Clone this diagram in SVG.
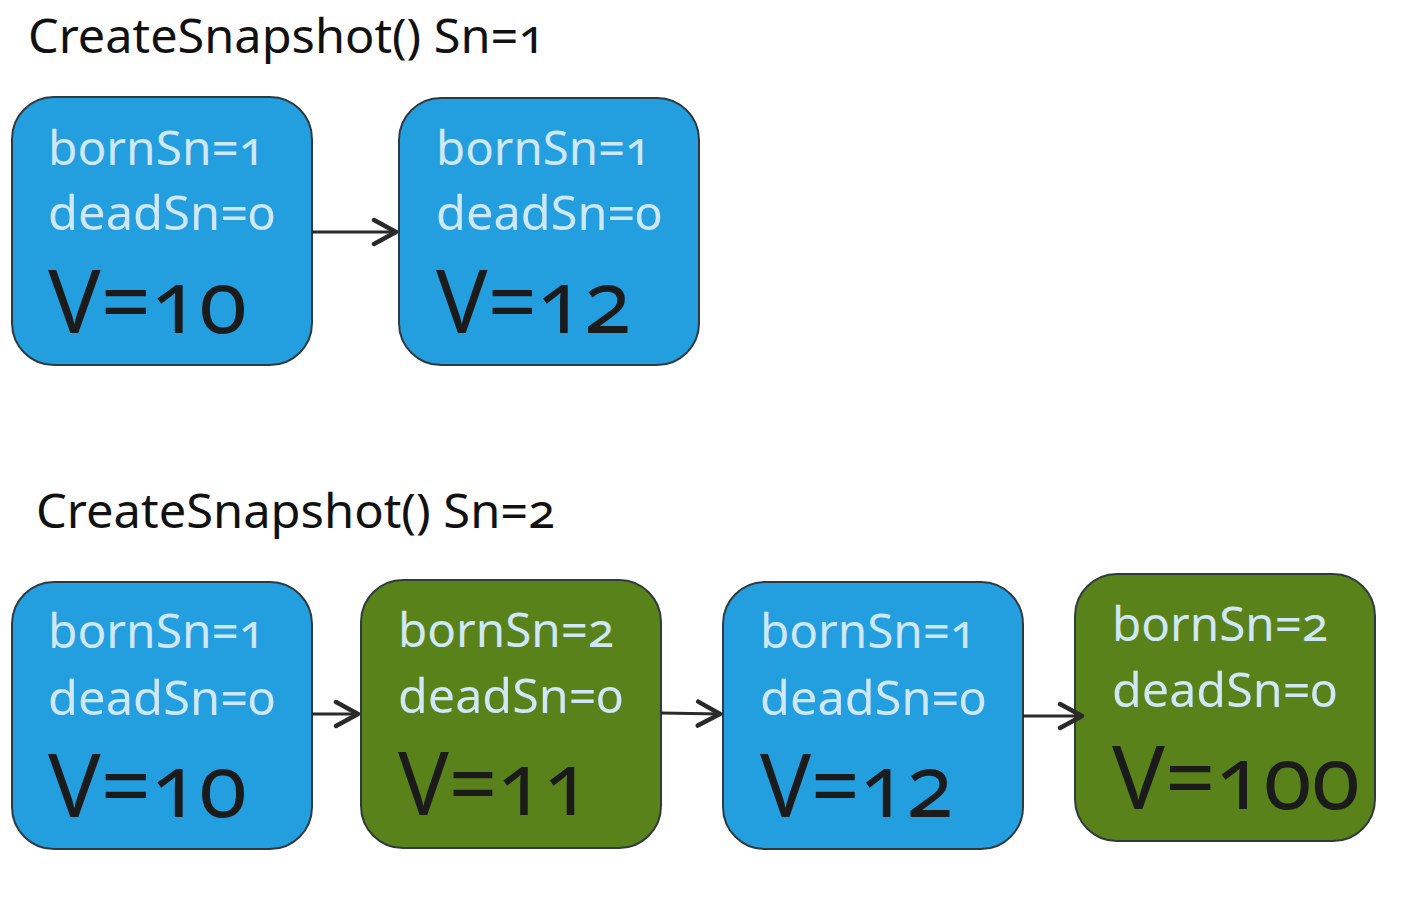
<svg xmlns="http://www.w3.org/2000/svg" width="1428" height="905" viewBox="0 0 1428 905">
<defs>
<style>
.box{stroke:#2f3a3f;stroke-width:2}
.blue{fill:#239fdf}
.green{fill:#5a821a}
.t{font-family:"Noto Sans","Open Sans","Liberation Sans",sans-serif;font-variant-numeric:oldstyle-nums;font-feature-settings:"onum" 1}
.sm{font-size:48px;fill:#cfe7f6}
.big{font-size:88px;fill:#1b1b1b}
.title{font-size:47px;fill:#111}
.conn{stroke:#2a2a2a;stroke-width:3;fill:none}
</style>
<marker id="arr" viewBox="0 0 30 30" refX="27" refY="15" markerWidth="30" markerHeight="30" markerUnits="userSpaceOnUse" orient="auto">
<path d="M4,3 L26,15 L4,27" fill="none" stroke="#2a2a2a" stroke-width="4.5" stroke-linecap="round" stroke-linejoin="round"/>
</marker>
</defs>
<rect width="1428" height="905" fill="#ffffff"/>
<text class="t title" x="28" y="53" textLength="517" lengthAdjust="spacingAndGlyphs">CreateSnapshot() Sn=1</text>
<text class="t title" x="36" y="528" textLength="519" lengthAdjust="spacingAndGlyphs">CreateSnapshot() Sn=2</text>
<g id="n1">
<rect class="box blue" x="12" y="97" width="300" height="268" rx="42"/>
<text class="t sm" x="48" y="165" textLength="217" lengthAdjust="spacingAndGlyphs">bornSn=1</text>
<text class="t sm" x="48" y="230" textLength="227" lengthAdjust="spacingAndGlyphs">deadSn=0</text>
<text class="t big" x="48" y="333" textLength="199" lengthAdjust="spacingAndGlyphs">V=10</text>
</g>
<g id="n2">
<rect class="box blue" x="399" y="98" width="300" height="267" rx="42"/>
<text class="t sm" x="436" y="165" textLength="215" lengthAdjust="spacingAndGlyphs">bornSn=1</text>
<text class="t sm" x="436" y="230" textLength="226" lengthAdjust="spacingAndGlyphs">deadSn=0</text>
<text class="t big" x="436" y="333" textLength="195" lengthAdjust="spacingAndGlyphs">V=12</text>
</g>
<g id="n3">
<rect class="box blue" x="12" y="582" width="300" height="267" rx="42"/>
<text class="t sm" x="48" y="648" textLength="217" lengthAdjust="spacingAndGlyphs">bornSn=1</text>
<text class="t sm" x="48" y="715" textLength="227" lengthAdjust="spacingAndGlyphs">deadSn=0</text>
<text class="t big" x="48" y="817" textLength="199" lengthAdjust="spacingAndGlyphs">V=10</text>
</g>
<g id="n4">
<rect class="box green" x="361" y="580" width="300" height="268" rx="42"/>
<text class="t sm" x="398" y="647" textLength="216" lengthAdjust="spacingAndGlyphs">bornSn=2</text>
<text class="t sm" x="398" y="713" textLength="225" lengthAdjust="spacingAndGlyphs">deadSn=0</text>
<text class="t big" x="398" y="815" textLength="192" lengthAdjust="spacingAndGlyphs">V=11</text>
</g>
<g id="n5">
<rect class="box blue" x="723" y="582" width="300" height="267" rx="42"/>
<text class="t sm" x="760" y="648" textLength="216" lengthAdjust="spacingAndGlyphs">bornSn=1</text>
<text class="t sm" x="760" y="715" textLength="226" lengthAdjust="spacingAndGlyphs">deadSn=0</text>
<text class="t big" x="760" y="817" textLength="193" lengthAdjust="spacingAndGlyphs">V=12</text>
</g>
<g id="n6">
<rect class="box green" x="1075" y="574" width="300" height="267" rx="42"/>
<text class="t sm" x="1112" y="641" textLength="216" lengthAdjust="spacingAndGlyphs">bornSn=2</text>
<text class="t sm" x="1112" y="707" textLength="225" lengthAdjust="spacingAndGlyphs">deadSn=0</text>
<text class="t big" x="1112" y="809" textLength="248" lengthAdjust="spacingAndGlyphs">V=100</text>
</g>
<g id="connectors">
<line class="conn" x1="312" y1="232" x2="397" y2="232" marker-end="url(#arr)"/>
<line class="conn" x1="312" y1="714" x2="359" y2="714" marker-end="url(#arr)"/>
<line class="conn" x1="661" y1="713" x2="721" y2="714" marker-end="url(#arr)"/>
<line class="conn" x1="1023" y1="716" x2="1083" y2="716" marker-end="url(#arr)"/>
</g>
</svg>
